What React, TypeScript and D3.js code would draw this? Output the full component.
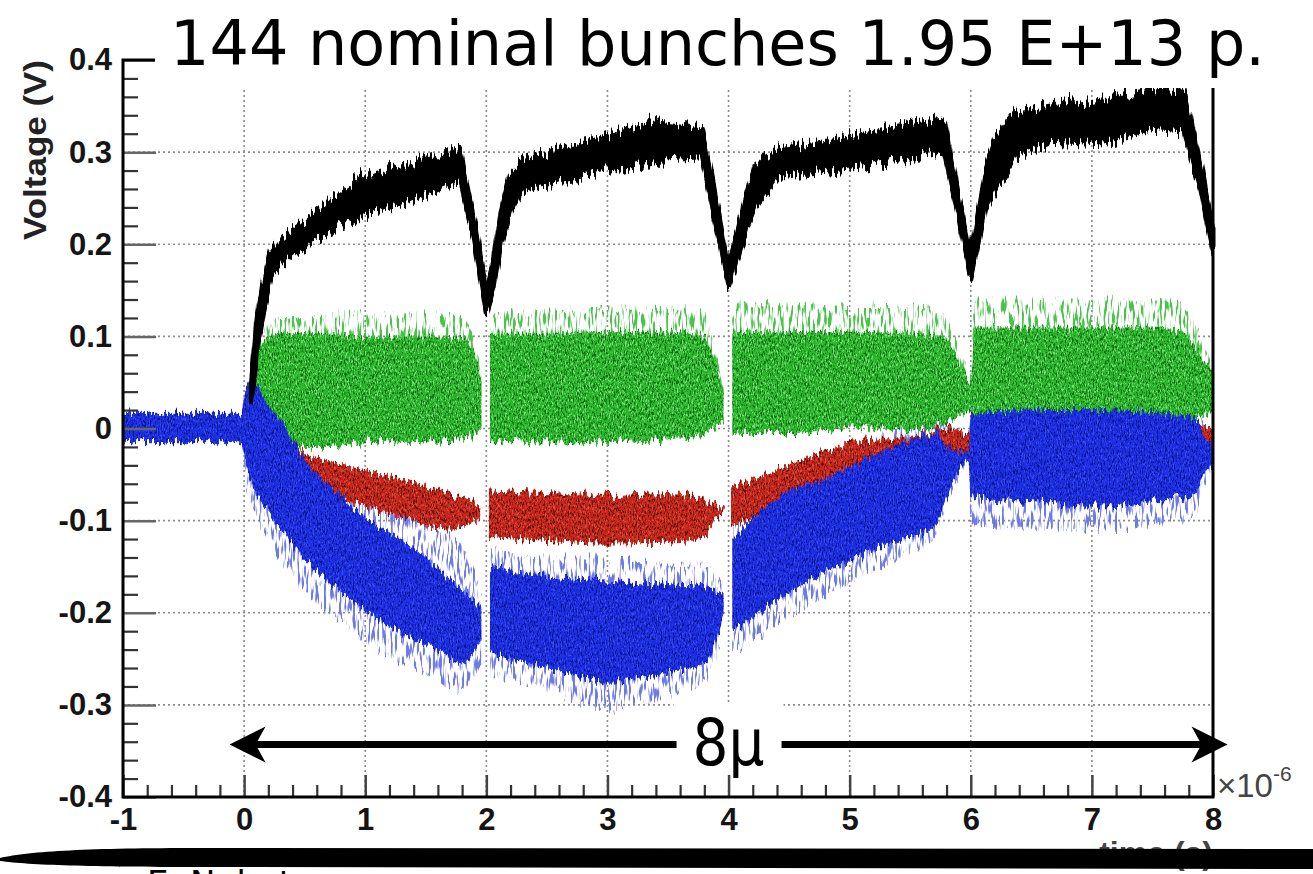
import React, { useEffect, useRef } from 'react';
import * as d3 from 'd3';

const WIDTH = 1313;
const HEIGHT = 874;

// axis ticks (time in units of 1e-6 s)
const xTicks = [-1, 0, 1, 2, 3, 4, 5, 6, 7, 8];
const yTicks = [-0.4, -0.3, -0.2, -0.1, 0, 0.1, 0.2, 0.3, 0.4];
const yTickLabels = ['-0.4', '-0.3', '-0.2', '-0.1', '0', '0.1', '0.2', '0.3', '0.4'];

// black trace: envelope of the noisy signal
const blackT = [0.06, 0.1, 0.16, 0.22, 0.3, 0.48, 0.75, 1.0, 1.3, 1.55, 1.78, 1.9, 2.0, 2.06, 2.12, 2.2, 2.3, 2.6, 3.0, 3.4, 3.78, 3.9, 4.0, 4.06, 4.14, 4.22, 4.4, 4.7, 5.1, 5.5, 5.78, 5.9, 6.0, 6.06, 6.12, 6.2, 6.37, 6.66, 7.1, 7.5, 7.76, 7.9, 8.0];
const blackLo = [0.03, 0.08, 0.13, 0.165, 0.18, 0.197, 0.22, 0.234, 0.245, 0.258, 0.27, 0.205, 0.128, 0.155, 0.2, 0.235, 0.259, 0.27, 0.281, 0.292, 0.295, 0.22, 0.155, 0.18, 0.215, 0.24, 0.273, 0.28, 0.285, 0.295, 0.302, 0.23, 0.165, 0.2, 0.24, 0.259, 0.295, 0.313, 0.31, 0.327, 0.324, 0.26, 0.195];
const blackHi = [0.05, 0.11, 0.16, 0.19, 0.205, 0.223, 0.25, 0.273, 0.285, 0.293, 0.302, 0.225, 0.15, 0.18, 0.235, 0.275, 0.288, 0.302, 0.317, 0.332, 0.325, 0.245, 0.175, 0.205, 0.25, 0.285, 0.302, 0.308, 0.318, 0.33, 0.335, 0.25, 0.185, 0.23, 0.28, 0.313, 0.342, 0.349, 0.357, 0.367, 0.364, 0.285, 0.215];

// green trace (null = gap between bunch trains)
const greenT = [0.06, 0.12, 0.2, 0.35, 0.6, 1.0, 1.5, 1.82, 1.9, 1.96, null, 2.03, 2.5, 3.0, 3.5, 3.8, 3.88, 3.96, null, 4.03, 4.5, 5.0, 5.5, 5.78, 5.9, 6.0, 6.03, 6.5, 7.0, 7.5, 7.75, 7.9, 8.0];
const greenLo = [0.02, 0.01, -0.005, -0.02, -0.02, -0.015, -0.015, -0.012, -0.008, 0.0, null, -0.015, -0.015, -0.015, -0.012, -0.008, 0.0, 0.008, null, -0.005, -0.005, 0.0, 0.0, 0.005, 0.012, 0.02, 0.0, 0.0, 0.0, 0.0, 0.005, 0.012, 0.02];
const greenHi = [0.05, 0.085, 0.1, 0.104, 0.104, 0.1, 0.1, 0.098, 0.08, 0.055, null, 0.103, 0.103, 0.105, 0.105, 0.1, 0.075, 0.045, null, 0.105, 0.105, 0.105, 0.103, 0.1, 0.075, 0.05, 0.11, 0.11, 0.11, 0.11, 0.105, 0.08, 0.06];
const greenSparseHi = [0.055, 0.1, 0.115, 0.12, 0.122, 0.125, 0.125, 0.12, 0.095, 0.06, null, 0.125, 0.128, 0.13, 0.13, 0.125, 0.09, 0.05, null, 0.135, 0.135, 0.132, 0.132, 0.125, 0.09, 0.055, 0.14, 0.14, 0.14, 0.14, 0.135, 0.1, 0.065];

// red trace
const redT = [0.4, 0.46, 0.7, 1.0, 1.3, 1.7, 1.85, 1.95, null, 2.02, 2.5, 3.0, 3.5, 3.78, 3.92, 3.97, null, 4.02, 4.3, 4.6, 5.0, 5.5, 5.8, 5.97, 6.0, 7.0, 7.8, 8.0];
const redLo = [-0.025, -0.053, -0.07, -0.085, -0.097, -0.11, -0.105, -0.098, null, -0.118, -0.122, -0.125, -0.124, -0.12, -0.095, -0.092, null, -0.106, -0.092, -0.074, -0.05, -0.035, -0.03, -0.03, -0.02, -0.02, -0.015, -0.015];
const redHi = [-0.015, -0.023, -0.035, -0.045, -0.055, -0.07, -0.078, -0.085, null, -0.067, -0.07, -0.072, -0.07, -0.075, -0.085, -0.088, null, -0.063, -0.05, -0.034, -0.016, -0.008, 0.0, -0.005, 0.0, 0.0, 0.003, 0.003];

// blue trace
const blueT = [-1, -0.5, -0.02, 0.01, 0.07, 0.2, 0.34, 0.48, 0.75, 1.03, 1.3, 1.58, 1.8, 1.96, null, 2.03, 2.5, 3.0, 3.5, 3.8, 3.96, null, 4.03, 4.33, 4.88, 5.42, 5.7, 5.86, 5.98, 6.0, 6.5, 7.0, 7.5, 7.85, 7.95, 8.0];
const blueLo = [-0.015, -0.015, -0.015, -0.037, -0.06, -0.092, -0.115, -0.14, -0.172, -0.2, -0.222, -0.24, -0.255, -0.23, null, -0.245, -0.26, -0.275, -0.265, -0.255, -0.205, null, -0.222, -0.193, -0.15, -0.121, -0.107, -0.056, -0.035, -0.075, -0.08, -0.085, -0.08, -0.07, -0.045, -0.04];
const blueHi = [0.017, 0.017, 0.017, 0.042, 0.05, 0.025, 0.0, -0.03, -0.067, -0.1, -0.12, -0.15, -0.175, -0.195, null, -0.15, -0.16, -0.165, -0.17, -0.172, -0.18, null, -0.121, -0.081, -0.049, -0.016, -0.005, -0.025, -0.025, 0.015, 0.02, 0.02, 0.018, 0.01, -0.012, -0.015];
const blueSparseLo = [-0.015, -0.015, -0.015, -0.06, -0.085, -0.12, -0.15, -0.175, -0.205, -0.235, -0.255, -0.27, -0.285, -0.255, null, -0.27, -0.285, -0.305, -0.29, -0.275, -0.22, null, -0.245, -0.22, -0.175, -0.14, -0.118, -0.065, -0.04, -0.105, -0.11, -0.11, -0.105, -0.095, -0.06, -0.05];
const blueSparseHi = [0.017, 0.017, 0.017, 0.042, 0.05, 0.025, 0.0, -0.025, -0.05, -0.075, -0.09, -0.11, -0.125, -0.18, null, -0.13, -0.14, -0.14, -0.15, -0.15, -0.17, null, -0.1, -0.06, -0.03, 0.0, 0.008, 0.0, -0.01, 0.025, 0.03, 0.03, 0.028, 0.02, 0.0, -0.01];

// the "8μ" span arrow (data units)
const arrowFrom = -0.12;
const arrowTo = 8.12;
const arrowV = -0.343;

const App = () => {
  const svgRef = useRef(null);

  useEffect(() => {
    const svg = d3.select(svgRef.current);
    svg.selectAll('*').remove();

    const x = d3.scaleLinear().domain([-1, 8]).range([123, 1213]);
    const y = d3.scaleLinear().domain([-0.4, 0.4]).range([797, 60]);
    const [left, right] = x.range();
    const [bottom, top] = y.range();

    const defs = svg.append('defs');

    // speckled texture for the dense part of each trace
    const speckle = (id, dark, light, seed) => {
      const f = defs.append('filter').attr('id', id)
        .attr('x', 0).attr('y', 0).attr('width', 1).attr('height', 1)
        .attr('color-interpolation-filters', 'sRGB');
      f.append('feTurbulence').attr('type', 'fractalNoise')
        .attr('baseFrequency', '0.75 0.35').attr('numOctaves', 2)
        .attr('seed', seed).attr('result', 'noise');
      f.append('feColorMatrix').attr('in', 'noise').attr('type', 'matrix')
        .attr('values', '0 0 0 0 0  0 0 0 0 0  0 0 0 0 0  0 0 0 7 -3.8').attr('result', 'dm');
      f.append('feFlood').attr('flood-color', dark).attr('result', 'dc');
      f.append('feComposite').attr('in', 'dc').attr('in2', 'dm').attr('operator', 'in').attr('result', 'dd');
      f.append('feColorMatrix').attr('in', 'noise').attr('type', 'matrix')
        .attr('values', '0 0 0 0 0  0 0 0 0 0  0 0 0 0 0  0 0 0 -7 3.0').attr('result', 'lm');
      f.append('feFlood').attr('flood-color', light).attr('result', 'lc');
      f.append('feComposite').attr('in', 'lc').attr('in2', 'lm').attr('operator', 'in').attr('result', 'ld');
      const m = f.append('feMerge').attr('result', 'mg');
      m.append('feMergeNode').attr('in', 'SourceGraphic');
      m.append('feMergeNode').attr('in', 'dd');
      m.append('feMergeNode').attr('in', 'ld');
      f.append('feComposite').attr('in', 'mg').attr('in2', 'SourceAlpha').attr('operator', 'in');
    };
    speckle('spGreen', '#0e6a0e', '#7be07b', 3);
    speckle('spRed', '#5e0c08', '#e0503c', 5);
    speckle('spBlue', '#0b1590', '#3a4cf0', 9);

    // sparse vertical spikes around the dense band
    const spikes = (id, seed) => {
      const f = defs.append('filter').attr('id', id)
        .attr('x', 0).attr('y', 0).attr('width', 1).attr('height', 1)
        .attr('color-interpolation-filters', 'sRGB');
      f.append('feTurbulence').attr('type', 'fractalNoise')
        .attr('baseFrequency', '0.45 0.07').attr('numOctaves', 1)
        .attr('seed', seed).attr('result', 'noise');
      f.append('feColorMatrix').attr('in', 'noise').attr('type', 'matrix')
        .attr('values', '0 0 0 0 0  0 0 0 0 0  0 0 0 0 0  0 0 0 9 -4.6').attr('result', 'mask');
      f.append('feComposite').attr('in', 'SourceGraphic').attr('in2', 'mask').attr('operator', 'in');
    };
    spikes('spkGreen', 11);
    spikes('spkBlue', 13);

    // vertical jitter on the band edges, like the oscilloscope noise
    const jitter = (id, seed, scale) => {
      const f = defs.append('filter').attr('id', id)
        .attr('x', '-2%').attr('y', '-8%').attr('width', '104%').attr('height', '116%')
        .attr('color-interpolation-filters', 'sRGB');
      f.append('feTurbulence').attr('type', 'fractalNoise')
        .attr('baseFrequency', '0.45 0.015').attr('numOctaves', 1)
        .attr('seed', seed).attr('result', 'n');
      f.append('feColorMatrix').attr('in', 'n').attr('type', 'matrix')
        .attr('values', '0 0 0 0 0.5  0 1 0 0 0  0 0 1 0 0  0 0 0 0 1').attr('result', 'nv');
      f.append('feDisplacementMap').attr('in', 'SourceGraphic').attr('in2', 'nv')
        .attr('scale', scale).attr('xChannelSelector', 'R').attr('yChannelSelector', 'G');
    };
    jitter('jitColor', 17, 22);
    jitter('jitBlack', 23, 30);

    svg.append('rect').attr('width', WIDTH).attr('height', HEIGHT).attr('fill', '#fff');

    // dotted grid
    const grid = svg.append('g')
      .attr('stroke', '#8c8c8c').attr('stroke-width', 1.6).attr('stroke-dasharray', '2 3');
    grid.selectAll('.gx').data(xTicks.filter(t => t > -1 && t < 8)).join('line')
      .attr('x1', d => x(d)).attr('x2', d => x(d)).attr('y1', top).attr('y2', bottom);
    grid.selectAll('.gy').data(yTicks.filter(v => v > -0.4 && v < 0.4)).join('line')
      .attr('x1', left).attr('x2', right).attr('y1', d => y(d)).attr('y2', d => y(d));

    const band = (t, lo, hi) => t.map((d, i) => ({ t: d, lo: lo[i], hi: hi[i] }));
    const area = d3.area()
      .defined(d => d.t !== null)
      .x(d => x(d.t))
      .y0(d => y(d.lo))
      .y1(d => y(d.hi))
      .curve(d3.curveMonotoneX);

    const plot = svg.append('g').attr('filter', 'url(#jitColor)');

    // sparse fringes first
    plot.append('path').datum(band(greenT, greenLo, greenSparseHi))
      .attr('d', area).attr('fill', '#4cc24c').attr('filter', 'url(#spkGreen)');
    plot.append('path').datum(band(blueT, blueSparseLo, blueSparseHi))
      .attr('d', area).attr('fill', '#6e7ae6').attr('filter', 'url(#spkBlue)');

    // dense cores
    plot.append('path').datum(band(greenT, greenLo, greenHi))
      .attr('d', area).attr('fill', '#2db52d').attr('filter', 'url(#spGreen)');
    plot.append('path').datum(band(redT, redLo, redHi))
      .attr('d', area).attr('fill', '#c4261a').attr('filter', 'url(#spRed)');
    plot.append('path').datum(band(blueT, blueLo, blueHi))
      .attr('d', area).attr('fill', '#1b2ee0').attr('filter', 'url(#spBlue)');

    const blackArea = d3.area()
      .x(d => x(d.t))
      .y0(d => y(d.lo))
      .y1(d => y(d.hi));
    svg.append('g').attr('filter', 'url(#jitBlack)')
      .append('path').datum(band(blackT, blackLo, blackHi))
      .attr('d', blackArea).attr('fill', '#000')
      .attr('stroke', '#000').attr('stroke-width', 5).attr('stroke-linejoin', 'round');

    // white patch behind the 8μ label
    svg.append('rect')
      .attr('x', x(4) - 55).attr('y', y(arrowV) - 42)
      .attr('width', 110).attr('height', 88).attr('fill', '#fff');

    // axes
    const labelFont = (sel) => sel
      .attr('font-family', "'Liberation Sans', Arial, sans-serif")
      .attr('font-weight', 'bold').attr('font-size', 31).attr('fill', '#151515');

    const isMajor = (v, step) => Math.abs(v / step - Math.round(v / step)) < 1e-6;
    const minorX = d3.range(-1, 8.0001, 0.2).filter(v => !isMajor(v, 1));
    const minorY = d3.range(-0.4, 0.4001, 0.02).filter(v => !isMajor(v, 0.1));

    const gxMinor = svg.append('g').attr('transform', `translate(0,${bottom})`)
      .call(d3.axisBottom(x).tickValues(minorX).tickSize(-12).tickFormat(() => ''));
    gxMinor.select('.domain').remove();
    gxMinor.selectAll('line').attr('stroke', '#333').attr('stroke-width', 2.2);

    const gx = svg.append('g').attr('transform', `translate(0,${bottom})`)
      .call(d3.axisBottom(x).tickValues(xTicks).tickSize(-22).tickPadding(11).tickFormat(d => String(d)));
    gx.select('.domain').remove();
    gx.selectAll('line').attr('stroke', '#444').attr('stroke-width', 2.5);
    gx.selectAll('text').call(labelFont);

    const gyMinor = svg.append('g').attr('transform', `translate(${left},0)`)
      .call(d3.axisLeft(y).tickValues(minorY).tickSize(-15).tickFormat(() => ''));
    gyMinor.select('.domain').remove();
    gyMinor.selectAll('line').attr('stroke', '#333').attr('stroke-width', 2.2);

    const gy = svg.append('g').attr('transform', `translate(${left},0)`)
      .call(d3.axisLeft(y).tickValues(yTicks).tickSize(-33).tickPadding(11)
        .tickFormat((d, i) => yTickLabels[i]));
    gy.select('.domain').remove();
    gy.selectAll('line').attr('stroke', '#666').attr('stroke-width', 2.5);
    gy.selectAll('text').call(labelFont);

    // frame
    svg.append('rect')
      .attr('x', left).attr('y', top).attr('width', right - left).attr('height', bottom - top)
      .attr('fill', 'none').attr('stroke', '#000').attr('stroke-width', 3);

    // title with its white box
    svg.append('rect').attr('x', 155).attr('y', 0).attr('width', WIDTH - 155).attr('height', 88).attr('fill', '#fff');
    svg.append('text')
      .attr('x', 170).attr('y', 65)
      .attr('font-family', "'DejaVu Sans', sans-serif").attr('font-size', 63)
      .attr('textLength', 1095).attr('lengthAdjust', 'spacingAndGlyphs')
      .attr('fill', '#000')
      .text('144 nominal bunches 1.95 E+13 p.');

    // axis titles
    svg.append('text')
      .attr('transform', `translate(46,${top}) rotate(-90)`)
      .attr('text-anchor', 'end')
      .attr('font-family', "'Liberation Sans', Arial, sans-serif")
      .attr('font-weight', 'bold').attr('font-size', 31).attr('fill', '#222')
      .attr('textLength', 180).attr('lengthAdjust', 'spacingAndGlyphs')
      .text('Voltage (V)');

    const expo = svg.append('text')
      .attr('x', right + 4).attr('y', bottom)
      .attr('font-family', "'Liberation Sans', Arial, sans-serif")
      .attr('font-size', 33).attr('fill', '#444');
    expo.append('tspan').text('×10');
    expo.append('tspan').attr('dy', -16).attr('font-size', 21).text('-6');

    svg.append('text')
      .attr('x', right).attr('y', 864).attr('text-anchor', 'end')
      .attr('font-family', "'Liberation Sans', Arial, sans-serif")
      .attr('font-weight', 'bold').attr('font-size', 32).attr('fill', '#444')
      .text('time (s)');

    // span arrow
    const ay = y(arrowV);
    const ax0 = x(arrowFrom);
    const ax1 = x(arrowTo);
    svg.append('line')
      .attr('x1', ax0 + 20).attr('x2', x(4) - 52).attr('y1', ay).attr('y2', ay)
      .attr('stroke', '#000').attr('stroke-width', 7);
    svg.append('line')
      .attr('x1', x(4) + 53).attr('x2', ax1 - 20).attr('y1', ay).attr('y2', ay)
      .attr('stroke', '#000').attr('stroke-width', 7);
    svg.append('path')
      .attr('d', `M${ax0},${ay} L${ax0 + 36},${ay - 18} L${ax0 + 26},${ay} L${ax0 + 36},${ay + 18} Z`)
      .attr('fill', '#000');
    svg.append('path')
      .attr('d', `M${ax1},${ay} L${ax1 - 36},${ay - 18} L${ax1 - 26},${ay} L${ax1 - 36},${ay + 18} Z`)
      .attr('fill', '#000');
    svg.append('text')
      .attr('x', x(4)).attr('y', ay + 21).attr('text-anchor', 'middle')
      .attr('font-family', "'DejaVu Sans', sans-serif").attr('font-size', 64)
      .attr('textLength', 72).attr('lengthAdjust', 'spacingAndGlyphs')
      .attr('fill', '#000')
      .text('8μ');

    // author line below, mostly cut off at the page edge
    svg.append('text')
      .attr('x', 147).attr('y', 895)
      .attr('font-family', "'DejaVu Sans', sans-serif").attr('font-size', 34)
      .attr('fill', '#000')
      .text('E. Nebot');

    // heavy black stroke across the bottom
    svg.append('path')
      .attr('d', `M0,858 C30,851 90,848 200,848 L${WIDTH},849 L${WIDTH},869 L200,867 C90,867 30,865 0,861 Z`)
      .attr('fill', '#000');
  }, []);

  return (
    <svg
      ref={svgRef}
      width={WIDTH}
      height={HEIGHT}
      style={{ position: 'absolute', left: 0, top: 0, display: 'block' }}
    />
  );
};

export default App;
